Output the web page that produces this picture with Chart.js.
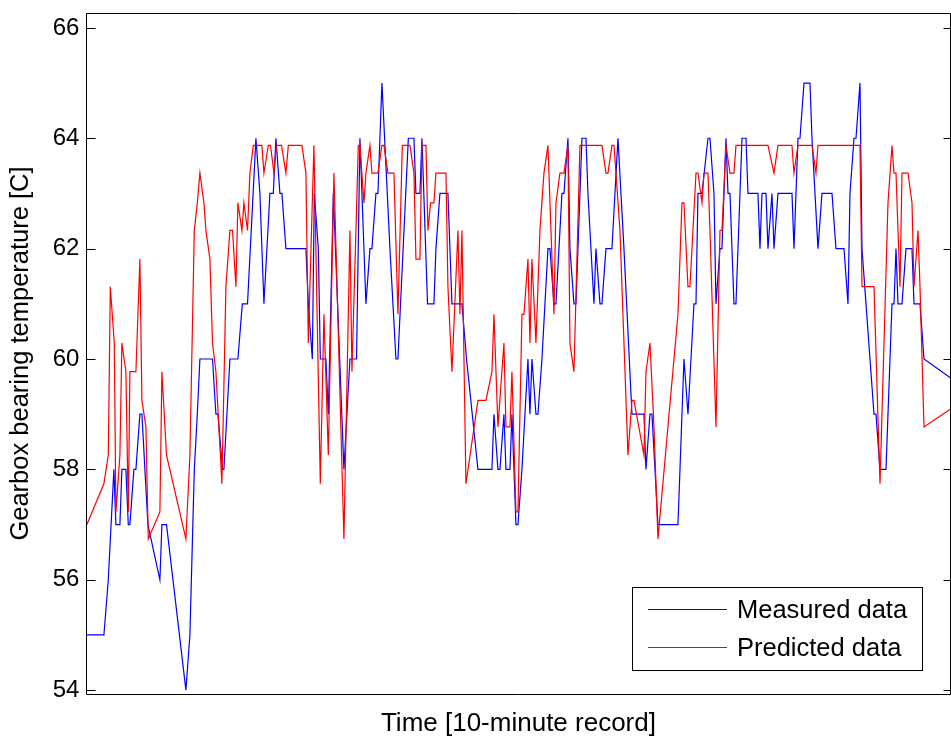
<!DOCTYPE html>
<html><head><meta charset="utf-8">
<script src="https://cdn.jsdelivr.net/npm/chart.js@4.4.1/dist/chart.umd.min.js"></script>
<style>html,body{margin:0;padding:0;background:#fff;overflow:hidden}canvas{display:block}</style>
</head><body>
<canvas id="c" width="951" height="740"></canvas>
<script>
// ---- data (record index, temperature) ----
const measuredT = [0,8.5,10.7,13.5,14.5,16.5,17.5,19.5,20.7,21.5,23.5,24.5,26.5,27.5,30.5,36.5,37.5,39.8,49.5,51.5,53.7,55.2,56.5,62.8,64.5,65.5,67.8,68.5,71.5,75.5,77.7,80.3,84.5,86.5,88.5,91.5,93.2,94.5,96.5,97.5,99.5,109.5,110.7,112.7,113.7,115.7,116.7,119.5,120.7,123.2,128.5,131.5,134.8,136.5,139.5,141.5,142.5,144.5,145.5,147.5,151.5,154.5,155.5,156.8,160.7,163.5,164.5,166.5,167.5,170.3,173.5,174.5,176.5,180.5,182.5,187.5,189.8,195.5,202.5,203.5,205.5,206.5,208.5,209.5,211.5,212.5,214.5,215.5,217.5,219,220.5,221.5,222.5,224.5,225.5,227.5,230.5,231.5,233.5,234.5,237.5,238.5,240.5,241.5,243.5,244.5,247.5,249.5,250.5,253.5,254.5,256.5,257.5,259.5,262.5,265.5,268.5,272.5,278.5,279.5,281.5,282.5,285.5,295.5,298.5,300.5,303.5,304.5,305.5,307.5,310.5,311.5,313.5,314.5,316.5,317.5,319.5,320.5,321.5,323.5,324.5,327.5,329.5,330.5,335.5,336.5,337.5,339.5,340.5,342.5,343.5,345.5,352.5,353.5,354.5,355.5,356.5,358.5,361.5,362.5,365.5,367.5,372.5,374.5,378.5,380.5,381.5,383.5,384.5,386.5,387.5,389.5,393.5,394.5,396.5,399.5,402.5,403.5,404.5,405.5,407.5,409.5,412.5,413.5,416.5,418.5,432];
const measuredV = [55,55,56,58,57,57,58,58,57,57,58,58,59,59,57,56,57,57,54,55,58,59,60,60,59,59,58,58,60,60,61,61,64,63,61,63,63,64,63,63,62,62,61,60,63,62,60,60,59,63,58,60,60,64,61,62,62,63,63,65,62,60,60,61,64,64,63,63,64,61,61,62,63,63,61,61,60,58,58,59,58,58,59,58,58,59,57,57,58,59,60,59,60,59,59,60,62,62,61,61,63,63,64,62,61,61,64,64,63,61,62,61,61,62,62,64,62,59,59,58,59,59,57,57,60,59,61,61,63,63,64,64,63,61,62,62,64,63,63,61,61,64,64,63,63,62,63,63,62,63,62,63,63,62,63,64,64,65,65,64,62,63,63,62,62,61,63,64,64,65,62,61,59,59,58,58,61,61,62,61,61,62,62,61,61,60,59.65];
const predictedT = [0,8.5,10.7,11.7,13.7,14.5,16.5,17.5,19.5,20.7,21.5,24.5,26.5,27.5,29.5,30.7,36.5,37.5,39.8,49.5,51.5,53.7,55.2,56.5,58.5,59.5,61.5,62.8,64.5,67.5,69.5,71.5,72.8,74.5,75.5,77.5,78.5,80.3,81.5,83.2,87.5,88.5,90.7,91.8,93.5,94.8,97.3,99.5,100.7,107.5,109.5,110.7,113.5,116.7,118.5,120.7,123.5,128.5,131.5,132.5,135.7,136.5,138.5,139.5,141.5,142.5,145.5,147.5,148.5,150.5,153.5,155.5,157.7,161.5,163.5,164.5,166.5,167.5,169.5,170.5,171.8,173.5,174.5,179.5,180.5,182.5,185.5,186.5,187.5,189.5,195.5,199.5,202.5,203.5,205.5,208.5,209.5,211.5,212.5,214.5,215.5,217.5,218.5,220.5,221.5,222.5,224.5,226.5,228.5,230.5,233.5,234.5,236.5,238.5,240.5,241.5,243.5,246.5,257.5,259.5,260.5,262.5,263.5,264.5,266.5,270.5,272.5,273.5,278.5,279.5,281.5,283.5,285.5,295.5,297.5,298.5,300.5,301.5,304.5,305.5,307.5,308.5,310.5,311.5,314.5,316.5,317.5,319.5,321.5,323.5,324.5,340.5,343.5,345.5,352.5,353.5,355.5,362.5,364.5,365.5,386.5,387.5,393.5,396.5,400.5,402.5,403.5,404.5,406.5,407.5,410.5,412.5,413.5,415.5,416.5,418.5,432];
const predictedV = [57.0,57.74,58.26,61.31,60.29,57.23,58.26,60.29,59.77,57.23,59.77,59.77,61.81,59.25,58.77,56.74,57.23,59.77,58.26,56.74,58.26,62.33,62.83,63.37,62.83,62.33,61.81,60.29,59.77,57.74,61.31,62.33,62.33,61.31,62.83,62.33,62.83,62.33,63.37,63.87,63.87,63.37,63.87,63.87,63.37,63.87,63.87,63.37,63.87,63.87,63.37,60.29,63.87,57.74,60.81,58.26,63.37,56.74,62.33,59.77,63.87,63.87,62.83,63.37,63.87,63.37,63.37,63.87,63.87,63.37,63.37,60.81,63.87,63.87,63.37,61.81,61.81,63.87,63.87,62.33,62.83,62.83,63.37,63.37,61.31,59.77,62.33,60.81,62.33,57.74,59.25,59.25,59.77,60.81,58.77,60.29,58.77,58.77,59.77,57.23,57.23,60.81,60.81,61.81,60.29,61.81,60.29,62.33,63.37,63.87,60.81,62.83,63.37,63.37,63.87,60.29,59.77,63.87,63.87,63.37,63.37,63.87,63.87,63.37,62.33,58.26,59.25,59.25,58.26,59.77,60.29,58.77,56.74,60.81,62.83,62.83,61.31,61.31,63.37,63.37,62.83,63.37,63.37,62.33,58.77,62.33,62.33,63.87,63.37,63.37,63.87,63.87,63.37,63.87,63.87,63.37,63.87,63.87,63.37,63.87,63.87,61.31,61.31,57.74,62.83,63.87,63.37,63.37,61.31,63.37,63.37,62.83,61.31,62.33,61.31,58.77,59.1];
const yTicks = [54, 56, 58, 60, 62, 64, 66];
const seriesLabels = ['Measured data', 'Predicted data'];
const seriesColors = ['#0000ff', '#ff0000'];
const xTitle = 'Time [10-minute record]';
const yTitle = 'Gearbox bearing temperature [C]';

const FONT = '"Liberation Sans", Arial, Helvetica, sans-serif';
const toPts = (t, v) => t.map((x, i) => ({ x: x, y: v[i] }));

const framePlugin = {
  id: 'frame',
  afterDatasetsDraw(chart) {
    const { ctx, chartArea: a, scales: { y } } = chart;
    ctx.save();
    ctx.strokeStyle = '#000';
    ctx.lineWidth = 1;
    const L = Math.round(a.left) + 0.5, R = Math.round(a.right) - 0.5;
    const T = Math.round(a.top) + 0.5, B = Math.round(a.bottom) + 0.5;
    ctx.beginPath();
    ctx.moveTo(L, T); ctx.lineTo(R, T); ctx.lineTo(R, B); ctx.lineTo(L, B); ctx.closePath();
    yTicks.forEach(v => {
      const py = Math.round(y.getPixelForValue(v)) + 0.5;
      ctx.moveTo(L, py); ctx.lineTo(L + 9, py);
      ctx.moveTo(R, py); ctx.lineTo(R - 7, py);
    });
    ctx.stroke();
    ctx.restore();
  }
};

const legendPlugin = {
  id: 'boxLegend',
  afterDraw(chart) {
    const { ctx } = chart;
    const bx = 632.5, by = 587.5, bw = 290, bh = 83;
    ctx.save();
    ctx.fillStyle = '#fff';
    ctx.fillRect(bx, by, bw, bh);
    ctx.strokeStyle = '#000';
    ctx.lineWidth = 1;
    ctx.strokeRect(bx, by, bw, bh);
    ctx.font = '25.5px ' + FONT;
    ctx.textBaseline = 'middle';
    ctx.textAlign = 'left';
    chart.data.datasets.forEach((ds, i) => {
      const ly = 609.5 + 38 * i;
      ctx.strokeStyle = ds.borderColor;
      ctx.lineWidth = 1;
      ctx.beginPath(); ctx.moveTo(648, ly); ctx.lineTo(727, ly); ctx.stroke();
      ctx.fillStyle = '#000';
      ctx.fillText(ds.label, 737, ly + 1);
    });
    ctx.restore();
  }
};

new Chart(document.getElementById('c'), {
  type: 'line',
  data: {
    datasets: [
      { label: seriesLabels[0], data: toPts(measuredT, measuredV), borderColor: seriesColors[0], borderWidth: 1.2, pointRadius: 0, tension: 0, fill: false, order: 2 },
      { label: seriesLabels[1], data: toPts(predictedT, predictedV), borderColor: seriesColors[1], borderWidth: 1.2, pointRadius: 0, tension: 0, fill: false, order: 1 }
    ]
  },
  options: {
    responsive: false,
    devicePixelRatio: 1,
    animation: false,
    events: [],
    layout: { padding: { left: 0, right: 0, top: 13, bottom: 0 } },
    plugins: { legend: { display: false }, tooltip: { enabled: false } },
    scales: {
      x: {
        type: 'linear', min: -0.5, max: 432,
        grid: { display: false, drawTicks: false },
        border: { display: false },
        ticks: { display: false },
        title: { display: true, text: xTitle, color: '#000', font: { family: FONT, size: 26 }, padding: { top: 14.6, bottom: 0.2 } }
      },
      y: {
        type: 'linear', min: 53.93, max: 66.27,
        afterBuildTicks: s => { s.ticks = yTicks.map(v => ({ value: v })); },
        afterFit: s => { s.paddingTop = 0; s.paddingBottom = 0; },
        grid: { display: false, drawTicks: false },
        border: { display: false },
        ticks: { color: '#000', font: { family: FONT, size: 24 }, padding: 6.5, callback: v => String(v) },
        title: { display: true, text: yTitle, color: '#000', font: { family: FONT, size: 25.5 }, padding: { top: 6, bottom: 9.6 } }
      }
    }
  },
  plugins: [framePlugin, legendPlugin]
});
</script>
</body></html>
